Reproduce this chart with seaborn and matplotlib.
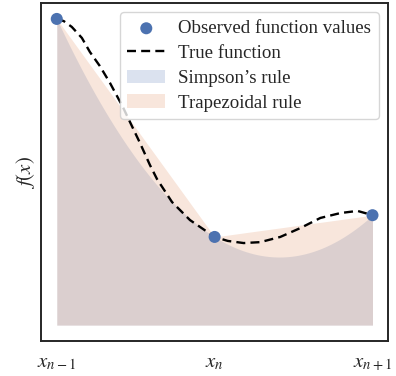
import numpy as np
import pandas as pd
import matplotlib
matplotlib.use("Agg")
import matplotlib.pyplot as plt
import seaborn as sns

# Observed nodes
x_obs = [0.0, 1.0, 2.0]
f_obs = [1.000, 0.288, 0.359]
tick_labels = [r"$x_{n-1}$", r"$x_n$", r"$x_{n+1}$"]

# True function
x_true = [0.000, 0.044, 0.095, 0.159, 0.210, 0.273, 0.337, 0.419, 0.476, 0.527,
          0.590, 0.635, 0.730, 0.844, 1.000, 1.083, 1.184, 1.289, 1.416, 1.543,
          1.670, 1.797, 1.905, 2.000]
f_true = [1.000, 0.993, 0.974, 0.938, 0.892, 0.846, 0.791, 0.712, 0.650, 0.595,
          0.523, 0.477, 0.402, 0.343, 0.288, 0.275, 0.268, 0.271, 0.288, 0.317,
          0.350, 0.366, 0.373, 0.359]

sns.set_style("white")
plt.rcParams["font.family"] = ["Liberation Serif", "DejaVu Serif"]
plt.rcParams["mathtext.fontset"] = "stix"

pal = sns.color_palette("deep")
fig = plt.figure(figsize=(3.96, 3.76), dpi=100)
ax = fig.add_axes([0.1035, 0.093, 0.877, 0.899])

# Simpson's rule: quadratic through the three observed nodes
coef = np.polyfit(x_obs, f_obs, 2)
xs = np.linspace(x_obs[0], x_obs[-1], 200)
ax.fill_between(xs, 0, np.polyval(coef, xs), color=pal[0], alpha=0.2, lw=0,
                label="Simpson\u2019s rule")
# Trapezoidal rule
ax.fill_between(x_obs, 0, f_obs, color=pal[1], alpha=0.2, lw=0,
                label="Trapezoidal rule")

df_true = pd.DataFrame({"x": x_true, "f": f_true})
sns.lineplot(data=df_true, x="x", y="f", ax=ax, color="black", lw=1.7,
             linestyle=(0, (3.8, 2.2)), label="True function", zorder=3)
df_obs = pd.DataFrame({"x": x_obs, "f": f_obs})
sns.scatterplot(data=df_obs, x="x", y="f", ax=ax, color=pal[0], s=75,
                edgecolor="none", label="Observed function values", zorder=4)

ax.set_xlim(-0.1, 2.1)
ax.set_ylim(-0.052, 1.052)
ax.set_xticks(x_obs)
ax.set_xticklabels(tick_labels, fontsize=15)
ax.set_yticks([])
ax.tick_params(axis="x", length=0, pad=9)
ax.set_xlabel("")
ax.set_ylabel(r"$f(x)$", fontsize=15, labelpad=3)
for s in ax.spines.values():
    s.set_color("0.15")
    s.set_linewidth(1.4)

h, l = ax.get_legend_handles_labels()
order = ["Observed function values", "True function", "Simpson\u2019s rule", "Trapezoidal rule"]
hd = dict(zip(l, h))
ax.legend([hd[k] for k in order], order, loc="upper right", fontsize=13.6,
          frameon=True, handlelength=2.0, borderpad=0.4, labelspacing=0.4,
          handletextpad=0.7)

fig.savefig("out.png", dpi=100)
